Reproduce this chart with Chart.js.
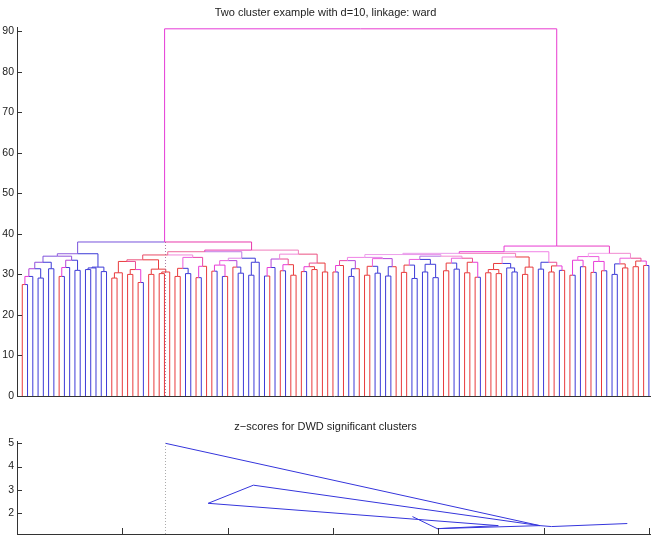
<!DOCTYPE html>
<html>
<head>
<meta charset="utf-8">
<script src="https://cdn.jsdelivr.net/npm/chart.js@4.4.1/dist/chart.umd.min.js"></script>
<style>
  html, body { margin: 0; padding: 0; background: #fff; }
  #wrap { position: relative; width: 651px; height: 560px; }
  canvas { position: absolute; left: 0; }
</style>
</head>
<body>
<div id="wrap">
  <canvas id="dendro" width="651" height="410" style="top:0"></canvas>
  <canvas id="zplot" width="651" height="150" style="top:410px"></canvas>
</div>
<script>
// leaf classes, left to right (r = class 1, b = class 2)
const leafClass = ("rbbbbbbrbbbbbbbbb" + "rrrrrrbrrrrr" + "rrbbrbrrbbrrbbbbbbrbrbrrrbrrrr" +
                   "rbrbbrrrbbbbrrrbbbbbbrrbbrrrbr" + "rrrbbbrrrbbrrbrrbbrrbrbbbrrrrrb").split("");

// merge tree: [height, left, right], leaves are leaf numbers
const rootHeight = 90.6;
const leftHeight = 38.0;
const rightHeight = 37.0;

const treeL = [35.1,
  [34.5,
    [33.0, [31.4, [29.5, [27.5, 1, 2], 3], [29.1, 4, 5]], [31.4, 6, 7]],
    [33.5, [31.7, [29.5, 8, 9], 10], [31.0, 11, 12]]],
  [31.8, [31.6, [31.2, 13, 14], 15], [30.7, 16, 17]]];

const treeR1a = [34.8,
  [33.6,
    [33.2, [30.4, [29.1, 18, 19], 20], [31.2, [30.0, 21, 22], [28.0, 23, 24]]],
    [31.3, [30.0, 25, 26], [30.6, [30.2, 27, 28], 29]]],
  [34.2,
    [31.5, [29.5, 30, 31], [30.2, 32, 33]],
    [32.0, [29.2, 34, 35], 36]]];

const treeR1b = [34.0,
  [33.4, [32.3, [30.8, 37, 38], [29.5, 39, 40]], [31.8, 41, [30.3, 42, 43]]],
  [33.0, [29.8, 44, 45], 46]];

const treeR2 = [35.0,
  [33.8, [31.7, [29.6, 47, 48], 49], [32.4, [30.9, 50, 51], [29.8, 52, 53]]],
  [32.8, [31.9, [30.7, 54, 55], [31.2, 56, 57]], [30.6, 58, 59]]];

const treeRA1x = [34.9,
  [34.2,
    [33.4, [32.2, [30.6, 60, 61], 62], [31.4, [29.5, 63, 64], 65]],
    [33.9, [32.0, [29.8, 66, 67], [30.3, 68, 69]], [31.9, [29.6, 70, 71], 72]]],
  [34.5,
    [33.7, [32.3, [30.5, 73, 74], [29.0, 75, 76]], [32.5, [30.6, 77, 78], [29.2, 79, 80]]],
    [34.0, [32.8, [30.9, 81, 82], [31.3, 83, 84]], [33.0, [30.4, 85, 86], [29.3, 87, 88]]]]];

const treeRA1y = [34.3,
  [32.7, [31.2, [30.4, 89, 90], [30.2, 91, 92]], [31.6, 93, [30.6, 94, 95]]],
  [31.8, [30.0, 96, 97], 98]];

const treeRA2 = [33.0, [31.3, 99, 100], [32.1, [30.6, 101, 102], [31.0, 103, 104]]];

const treeRB1 = [34.4,
  [33.5, [29.8, 105, 106], [31.9, 107, 108]],
  [33.2, [30.5, 109, 110], [30.9, 111, 112]]];

const treeRB2 = [34.0,
  [32.6, [30.0, 113, 114], [31.6, 115, 116]],
  [33.3, [31.9, 117, 118], [32.2, 119, 120]]];

const root = [rootHeight,
  [leftHeight, treeL, [36.0, [35.6, treeR1a, treeR1b], treeR2]],
  [rightHeight, [35.6, [35.2, treeRA1x, treeRA1y], treeRA2], [35.2, treeRB1, treeRB2]]];

const yTicksTop = [0, 10, 20, 30, 40, 50, 60, 70, 80, 90];
const splitX = 28.2;
const splitTop = 38.0;
const strongHeight = 35.15;   // merges at or above this are drawn at full colour

// z-scores of the significant clusters (x = cluster position)
const zX = [28.2, 99.3, 44.9, 36.3, 91.4, 79.8, 75.1, null, 79.8, 99.3, 101.5, 115.9];
const zY = [5.0, 1.46, 3.2, 2.42, 1.46, 1.33, 1.85, null, 1.33, 1.46, 1.42, 1.55];
const zYTicks = [2, 3, 4, 5];
const zXTicks = [20, 40, 60, 80, 100, 120];

const FONT = "'Liberation Sans', Arial, Helvetica, sans-serif";
Chart.defaults.font.family = FONT;
Chart.defaults.color = "#222";

function colorFor(f, pale) {
  let r = 60 + 172 * Math.min(1, 2 * f);
  let g = 58;
  let b = 60 + 155 * Math.min(1, 2 * (1 - f));
  r += (255 - r) * pale; g += (255 - g) * pale; b += (255 - b) * pale;
  return "rgb(" + Math.round(r) + "," + Math.round(g) + "," + Math.round(b) + ")";
}

function layout(node) {
  if (typeof node === "number") {
    const red = leafClass[node - 1] === "r" ? 1 : 0;
    return { x: node, h: 0, n: 1, red: red, kids: [] };
  }
  const a = layout(node[1]), b = layout(node[2]);
  return { x: (a.x + b.x) / 2, h: node[0], n: a.n + b.n, red: a.red + b.red, kids: [a, b] };
}

function nodeColor(nd) {
  const f = nd.red / nd.n;
  let pale = 0;
  if (nd.n > 2 && nd.h < strongHeight) pale = 0.55 * (1 - Math.abs(2 * f - 1)) * Math.min(1, (nd.n - 2) / 6);
  return colorFor(f, pale);
}

const linkSets = [];
function collect(p) {
  p.kids.forEach(c => {
    linkSets.push({
      data: [{ x: c.x, y: c.h }, { x: c.x, y: p.h }, { x: p.x, y: p.h }],
      borderColor: nodeColor(c)
    });
    collect(c);
  });
}
collect(layout(root));

const inwardTicks = {
  id: "inwardTicks",
  afterDraw(chart, args, opts) {
    const { ctx, chartArea: a, scales } = chart;
    ctx.save();
    ctx.strokeStyle = "#333";
    ctx.lineWidth = 1;
    ctx.beginPath();
    (opts.y || []).forEach(v => {
      const y = Math.round(scales.y.getPixelForValue(v)) + 0.5;
      ctx.moveTo(a.left, y); ctx.lineTo(a.left + 5, y);
    });
    (opts.x || []).forEach(v => {
      const x = Math.round(scales.x.getPixelForValue(v)) + 0.5;
      ctx.moveTo(x, a.bottom); ctx.lineTo(x, a.bottom - 6);
    });
    ctx.stroke();
    ctx.restore();
  }
};

const lineDefaults = { showLine: true, pointRadius: 0, borderWidth: 1, fill: false };

new Chart(document.getElementById("dendro"), {
  type: "scatter",
  data: {
    datasets: [
      Object.assign({}, lineDefaults, {
        data: [{ x: splitX, y: 0 }, { x: splitX, y: splitTop }],
        borderColor: "rgba(160,110,150,0.9)", borderDash: [1, 2]
      })
    ].concat(linkSets.map(s => Object.assign({}, lineDefaults, s)))
  },
  options: {
    responsive: false,
    animation: false,
    devicePixelRatio: 1,
    layout: { padding: 0 },
    plugins: {
      legend: { display: false },
      tooltip: { enabled: false },
      title: {
        display: true,
        text: "Two cluster example with d=10, linkage: ward",
        font: { size: 11, weight: "normal", family: FONT },
        color: "#222",
        padding: { top: 6, bottom: 8 }
      },
      inwardTicks: { y: yTicksTop }
    },
    scales: {
      x: {
        type: "linear", min: 0, max: 120.4,
        grid: { display: false, drawTicks: false },
        border: { display: true, color: "#333", width: 1 },
        ticks: { display: false },
        afterFit: s => { s.height = 14; }
      },
      y: {
        type: "linear", min: 0, max: 91,
        grid: { display: false, drawTicks: false },
        border: { display: true, color: "#333", width: 1 },
        ticks: { padding: 3, font: { size: 10.5, family: FONT }, color: "#222" },
        afterBuildTicks: s => { s.ticks = yTicksTop.map(v => ({ value: v })); },
        afterFit: s => { s.width = 17; }
      }
    }
  },
  plugins: [inwardTicks]
});

// split z-score polyline at null breaks
const zSets = [];
let cur = [];
zX.forEach((x, i) => {
  if (x === null) { zSets.push(cur); cur = []; }
  else cur.push({ x: x, y: zY[i] });
});
zSets.push(cur);

new Chart(document.getElementById("zplot"), {
  type: "scatter",
  data: {
    datasets: [
      Object.assign({}, lineDefaults, {
        data: [{ x: splitX, y: 1.1 }, { x: splitX, y: 5.0 }],
        borderColor: "#aaa", borderDash: [1, 2]
      })
    ].concat(zSets.map(d => Object.assign({}, lineDefaults, { data: d, borderColor: "#3535dc" })))
  },
  options: {
    responsive: false,
    animation: false,
    devicePixelRatio: 1,
    layout: { padding: 0 },
    plugins: {
      legend: { display: false },
      tooltip: { enabled: false },
      title: {
        display: true,
        text: "z\u2212scores for DWD significant clusters",
        font: { size: 11, weight: "normal", family: FONT },
        color: "#222",
        padding: { top: 10, bottom: 7.8 }
      },
      inwardTicks: { y: zYTicks, x: zXTicks }
    },
    scales: {
      x: {
        type: "linear", min: 0, max: 120.4,
        grid: { display: false, drawTicks: false },
        border: { display: true, color: "#333", width: 1 },
        ticks: { display: false },
        afterFit: s => { s.height = 26; }
      },
      y: {
        type: "linear", min: 1.1, max: 5.1,
        grid: { display: false, drawTicks: false },
        border: { display: true, color: "#333", width: 1 },
        ticks: { padding: 3, font: { size: 10.5, family: FONT }, color: "#222" },
        afterBuildTicks: s => { s.ticks = zYTicks.map(v => ({ value: v })); },
        afterFit: s => { s.width = 17; }
      }
    }
  },
  plugins: [inwardTicks]
});
</script>
</body>
</html>
